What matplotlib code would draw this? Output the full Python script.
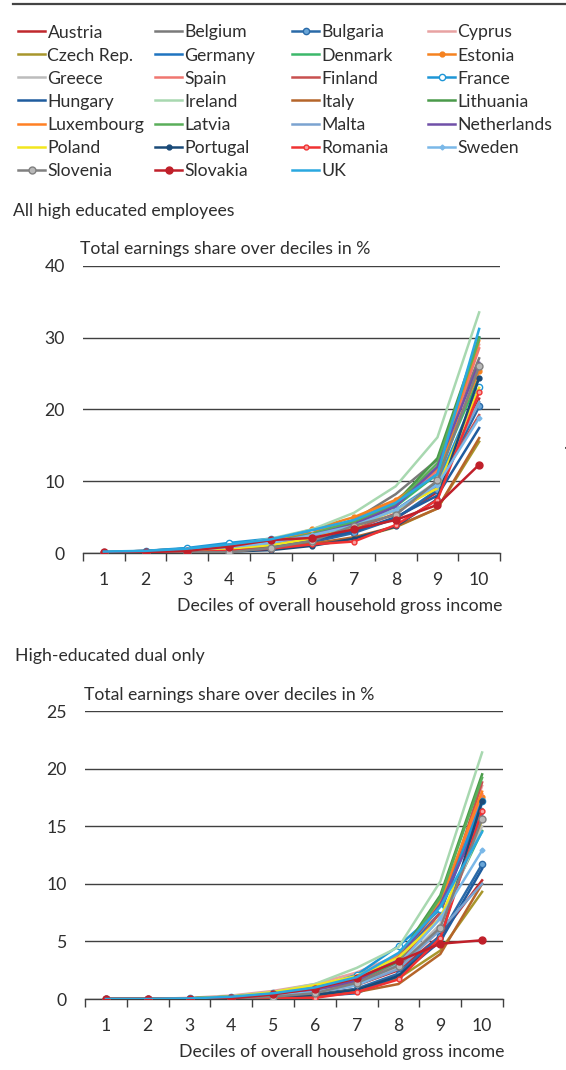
import matplotlib
matplotlib.use("Agg")
import matplotlib.pyplot as plt
from matplotlib.lines import Line2D

plt.rcParams['font.family'] = ['Lato', 'DejaVu Sans']

# deciles 1..10
deciles = list(range(1, 11))

countries = ["Austria", "Belgium", "Bulgaria", "Cyprus",
             "Czech Rep.", "Germany", "Denmark", "Estonia",
             "Greece", "Spain", "Finland", "France",
             "Hungary", "Ireland", "Italy", "Lithuania",
             "Luxembourg", "Latvia", "Malta", "Netherlands",
             "Poland", "Portugal", "Romania", "Sweden",
             "Slovenia", "Slovakia", "UK"]

# all high educated employees (share in %, deciles 1..10)
all_high = {
    "Austria":     [0.1, 0.2, 0.4, 0.7, 1.2, 2.0, 3.0, 4.8, 8.5, 21.5],
    "Belgium":     [0.1, 0.2, 0.4, 0.8, 1.5, 2.8, 4.6, 8.2, 13.0, 27.1],
    "Bulgaria":    [0.0, 0.1, 0.2, 0.4, 0.8, 1.5, 2.8, 4.8, 8.8, 20.4],
    "Cyprus":      [0.1, 0.3, 0.5, 0.9, 1.6, 2.8, 4.5, 7.0, 12.0, 29.0],
    "Czech Rep.":  [0.0, 0.1, 0.2, 0.3, 0.6, 1.2, 2.0, 3.6, 6.2, 15.5],
    "Germany":     [0.1, 0.3, 0.6, 1.1, 1.8, 2.9, 4.3, 6.8, 11.0, 30.0],
    "Denmark":     [0.1, 0.2, 0.4, 0.8, 1.4, 2.5, 4.0, 6.5, 11.0, 24.5],
    "Estonia":     [0.1, 0.3, 0.6, 1.0, 1.8, 3.3, 5.0, 7.4, 11.5, 25.3],
    "Greece":      [0.1, 0.2, 0.4, 0.7, 1.2, 2.2, 3.6, 6.0, 10.0, 21.0],
    "Spain":       [0.1, 0.2, 0.5, 0.9, 1.5, 2.6, 4.2, 6.8, 11.5, 28.5],
    "Finland":     [0.1, 0.2, 0.4, 0.7, 1.2, 2.1, 3.3, 5.5, 9.5, 19.2],
    "France":      [0.1, 0.3, 0.7, 1.4, 2.0, 2.9, 4.0, 6.0, 9.8, 23.1],
    "Hungary":     [0.0, 0.1, 0.2, 0.5, 1.0, 1.8, 3.0, 5.0, 8.0, 17.4],
    "Ireland":     [0.1, 0.2, 0.5, 1.0, 2.0, 3.3, 5.6, 9.3, 16.1, 33.5],
    "Italy":       [0.0, 0.1, 0.2, 0.4, 0.7, 1.3, 2.2, 3.7, 6.2, 16.0],
    "Lithuania":   [0.1, 0.2, 0.4, 0.8, 1.4, 2.6, 4.3, 7.0, 13.2, 30.0],
    "Luxembourg":  [0.1, 0.2, 0.5, 0.9, 1.6, 2.8, 4.6, 7.2, 11.8, 29.5],
    "Latvia":      [0.1, 0.2, 0.4, 0.8, 1.5, 2.7, 4.4, 6.8, 12.5, 29.8],
    "Malta":       [0.1, 0.2, 0.4, 0.8, 1.4, 2.4, 3.8, 6.0, 9.5, 21.0],
    "Netherlands": [0.1, 0.2, 0.4, 0.8, 1.4, 2.5, 4.0, 6.5, 12.0, 26.5],
    "Poland":      [0.0, 0.1, 0.3, 0.6, 1.1, 2.0, 3.6, 6.0, 9.0, 23.0],
    "Portugal":    [0.0, 0.0, 0.1, 0.2, 0.4, 1.0, 2.0, 3.7, 7.5, 24.4],
    "Romania":     [0.0, 0.0, 0.1, 0.3, 0.6, 1.2, 1.6, 3.9, 7.4, 22.4],
    "Sweden":      [0.1, 0.2, 0.4, 0.8, 1.4, 2.5, 3.8, 6.0, 9.5, 18.8],
    "Slovenia":    [0.0, 0.0, 0.1, 0.1, 0.7, 1.7, 3.8, 5.3, 10.1, 26.0],
    "Slovakia":    [0.1, 0.1, 0.3, 0.9, 1.8, 2.1, 3.3, 4.6, 6.7, 12.3],
    "UK":          [0.2, 0.3, 0.6, 1.2, 1.9, 3.2, 4.6, 7.0, 11.0, 31.2],
}

# high-educated dual only
dual_only = {
    "Austria":     [0, 0, 0.0, 0.1, 0.3, 0.6, 1.2, 2.5, 5.5, 10.3],
    "Belgium":     [0, 0, 0.05, 0.2, 0.5, 1.0, 2.0, 3.8, 8.0, 16.5],
    "Bulgaria":    [0, 0, 0.0, 0.05, 0.2, 0.4, 0.9, 2.2, 5.5, 11.7],
    "Cyprus":      [0, 0, 0.1, 0.3, 0.7, 1.3, 2.3, 3.8, 7.5, 18.5],
    "Czech Rep.":  [0, 0, 0.0, 0.05, 0.15, 0.35, 0.8, 1.8, 4.2, 9.3],
    "Germany":     [0, 0, 0.05, 0.2, 0.4, 0.8, 1.6, 3.5, 7.5, 17.0],
    "Denmark":     [0, 0, 0.05, 0.15, 0.4, 0.8, 1.6, 3.2, 7.0, 14.6],
    "Estonia":     [0, 0, 0.05, 0.2, 0.5, 0.9, 1.8, 3.6, 8.0, 17.5],
    "Greece":      [0, 0, 0.05, 0.1, 0.3, 0.6, 1.3, 2.8, 6.5, 15.0],
    "Spain":       [0, 0, 0.05, 0.2, 0.5, 1.0, 1.9, 3.8, 8.2, 17.8],
    "Finland":     [0, 0, 0.05, 0.15, 0.35, 0.7, 1.4, 3.0, 7.5, 18.8],
    "France":      [0, 0, 0.05, 0.2, 0.55, 1.0, 2.1, 4.6, 7.8, 17.2],
    "Hungary":     [0, 0, 0.0, 0.05, 0.1, 0.25, 0.5, 2.0, 5.0, 11.3],
    "Ireland":     [0, 0, 0.05, 0.25, 0.6, 1.3, 2.7, 4.5, 10.2, 21.4],
    "Italy":       [0, 0, 0.0, 0.05, 0.1, 0.3, 0.6, 1.3, 3.9, 10.0],
    "Lithuania":   [0, 0, 0.05, 0.2, 0.5, 1.0, 1.9, 3.6, 9.0, 19.5],
    "Luxembourg":  [0, 0, 0.05, 0.2, 0.5, 0.9, 1.8, 3.6, 8.5, 18.0],
    "Latvia":      [0, 0, 0.05, 0.2, 0.45, 0.9, 1.7, 3.4, 8.8, 19.2],
    "Malta":       [0, 0, 0.0, 0.1, 0.3, 0.6, 1.2, 2.6, 6.0, 10.0],
    "Netherlands": [0, 0, 0.05, 0.15, 0.4, 0.8, 1.6, 3.5, 8.2, 16.0],
    "Poland":      [0, 0, 0.05, 0.2, 0.6, 1.2, 2.0, 3.6, 7.0, 15.5],
    "Portugal":    [0, 0, 0.0, 0.05, 0.15, 0.35, 0.8, 2.0, 5.2, 17.2],
    "Romania":     [0, 0, 0.0, 0.0, 0.05, 0.1, 0.6, 1.7, 5.3, 16.3],
    "Sweden":      [0, 0, 0.05, 0.1, 0.3, 0.6, 1.2, 3.0, 7.0, 12.9],
    "Slovenia":    [0, 0, 0.0, 0.05, 0.2, 0.5, 1.4, 2.9, 6.2, 15.6],
    "Slovakia":    [0, 0, 0.0, 0.05, 0.4, 0.9, 1.8, 3.3, 4.8, 5.1],
    "UK":          [0, 0, 0.05, 0.2, 0.5, 1.0, 1.9, 4.0, 8.0, 14.5],
}

# colour, marker, marker face
styles = {
    "Austria":     ("#c0282d", None, None),
    "Belgium":     ("#7a7a7a", None, None),
    "Bulgaria":    ("#2a6aa8", "o", "#6aa6d8"),
    "Cyprus":      ("#e8a2a2", None, None),
    "Czech Rep.":  ("#a8962c", None, None),
    "Germany":     ("#1f74c0", None, None),
    "Denmark":     ("#3cb86a", None, None),
    "Estonia":     ("#f58220", "o", "#f58220"),
    "Greece":      ("#bcbcbc", None, None),
    "Spain":       ("#f07670", None, None),
    "Finland":     ("#c8504f", None, None),
    "France":      ("#1e96d6", "o", "white"),
    "Hungary":     ("#1f5c9e", None, None),
    "Ireland":     ("#a8d8b0", None, None),
    "Italy":       ("#b5652a", None, None),
    "Lithuania":   ("#4a9a4a", None, None),
    "Luxembourg":  ("#ff8024", None, None),
    "Latvia":      ("#5aae5a", None, None),
    "Malta":       ("#7ba3d0", None, None),
    "Netherlands": ("#7050a8", None, None),
    "Poland":      ("#f2e61e", None, None),
    "Portugal":    ("#1a4a78", "o", "#1a4a78"),
    "Romania":     ("#f03232", "o", "#f6a0a0"),
    "Sweden":      ("#7ab8e8", "D", "#7ab8e8"),
    "Slovenia":    ("#808080", "o", "#b8b8b8"),
    "Slovakia":    ("#c0202a", "o", "#c0202a"),
    "UK":          ("#2aa8e0", None, None),
}
marker_sizes = {"Bulgaria": 4.5, "Estonia": 3.5, "France": 4.5, "Portugal": 3.5,
                "Romania": 3.5, "Sweden": 2.5, "Slovenia": 5, "Slovakia": 5}

text_col = "#2e2e2e"
grid_col = "#404040"
fs = 12.7

W, H = 566, 1070
fig = plt.figure(figsize=(W / 100, H / 100), dpi=100)


def px_x(x):
    return x / W


def px_y(y):
    return 1 - y / H


def draw_panel(rect, data, ymax, ystep):
    ax = fig.add_axes(rect)
    handles = {}
    for c in countries:
        col, mk, mf = styles[c]
        ln, = ax.plot(deciles, data[c], color=col, lw=1.8,
                      marker=mk, markersize=marker_sizes.get(c, 0),
                      markerfacecolor=mf, markeredgecolor=col,
                      markeredgewidth=1.0, solid_joinstyle="miter")
        handles[c] = ln
    ax.set_xlim(0.5, 10.5)
    ax.set_ylim(0, ymax)
    ax.set_yticks(range(0, ymax + 1, ystep))
    ax.set_xticks(deciles)
    ax.set_xticks([d + 0.5 for d in range(0, 11)], minor=True)
    ax.tick_params(axis="x", which="major", length=0, pad=14,
                   labelsize=fs, labelcolor=text_col)
    ax.tick_params(axis="x", which="minor", length=6, width=1, color=grid_col,
                   direction="out")
    ax.tick_params(axis="y", length=0, pad=13, labelsize=fs, labelcolor=text_col)
    for s in ["top", "right", "left"]:
        ax.spines[s].set_visible(False)
    ax.spines["bottom"].set_color(grid_col)
    ax.spines["bottom"].set_linewidth(1.0)
    ax.spines["bottom"].set_zorder(0)
    ax.yaxis.grid(True, color=grid_col, lw=1.0)
    ax.set_axisbelow(True)
    return ax, handles


# top panel: all high educated employees
ax1, handles = draw_panel([px_x(83), px_y(553), (500 - 83) / W, (553 - 265.7) / H],
                          all_high, 40, 10)
# bottom panel: dual only
ax2, _ = draw_panel([px_x(85), px_y(999), (503 - 85) / W, (999 - 711) / H],
                    dual_only, 25, 5)

fig.text(px_x(13), px_y(211), "All high educated employees", fontsize=fs,
         color=text_col, va="center")
fig.text(px_x(80), px_y(249), "Total earnings share over deciles in %",
         fontsize=fs, color=text_col, va="center")
fig.text(px_x(502), px_y(606), "Deciles of overall household gross income",
         fontsize=fs, color=text_col, va="center", ha="right")

fig.text(px_x(15), px_y(656), "High-educated dual only", fontsize=fs,
         color=text_col, va="center")
fig.text(px_x(84), px_y(695), "Total earnings share over deciles in %",
         fontsize=fs, color=text_col, va="center")
fig.text(px_x(504), px_y(1052), "Deciles of overall household gross income",
         fontsize=fs, color=text_col, va="center", ha="right")

fig.text(px_x(563), px_y(444), ".", fontsize=fs, color=text_col, va="center")

# rule at the very top
fig.add_artist(Line2D([px_x(13), 1.0], [px_y(4), px_y(4)], color="#444444", lw=1.6))

# legend, four columns laid out row by row
col_x = [18, 155, 292, 428]
for c in range(4):
    names = countries[c::4]
    leg = fig.legend([handles[n] for n in names], names,
                     loc="upper left", bbox_to_anchor=(px_x(col_x[c]), px_y(24.5)),
                     frameon=False, fontsize=fs, handlelength=1.55,
                     handletextpad=0.12, labelspacing=0.4, borderpad=0,
                     borderaxespad=0, labelcolor=text_col)

fig.savefig("out.png", dpi=100)
